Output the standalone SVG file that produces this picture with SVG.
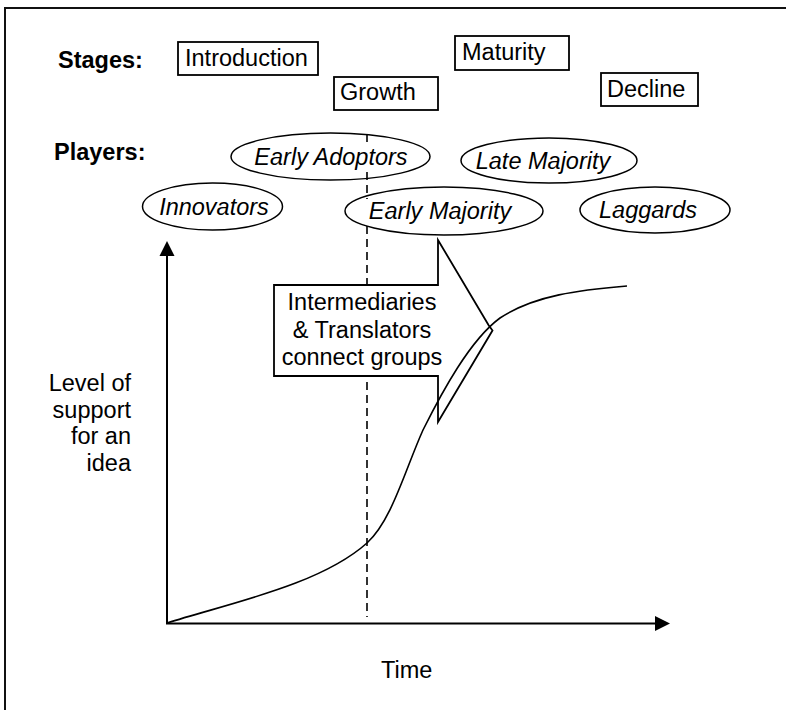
<svg xmlns="http://www.w3.org/2000/svg" width="786" height="710" viewBox="0 0 786 710">
<style>
text{font-family:"Liberation Sans",Arial,sans-serif;font-size:23.5px;fill:#000}
.b{font-weight:bold}
.i{font-style:italic}
.m{text-anchor:middle}
.e{text-anchor:end}
.box{fill:#fff;stroke:#000;stroke-width:1.8}
.ell{fill:none;stroke:#000;stroke-width:1.5}
.ln{fill:none;stroke:#000;stroke-width:1.6}
.dash{stroke:#000;stroke-width:1.6;stroke-dasharray:8,5}
</style>
<defs>
<marker id="ah" markerWidth="16" markerHeight="16" refX="0" refY="0" viewBox="0 -8 16 16" markerUnits="userSpaceOnUse" orient="auto">
<path d="M0,-7.5 L15,0 L0,7.5 Z" fill="#000"/>
</marker>
</defs>
<rect x="5" y="8" width="790" height="710" fill="#fff" stroke="#111" stroke-width="2"/>
<text class="b" x="58" y="68">Stages:</text>
<text class="b" x="54" y="160">Players:</text>
<g id="introduction"><rect class="box" x="178" y="42" width="140" height="33"/><text x="185" y="66">Introduction</text></g>
<g id="growth"><rect class="box" x="334" y="77" width="104" height="33"/><text x="340" y="100">Growth</text></g>
<g id="maturity"><rect class="box" x="455" y="36" width="114" height="34"/><text x="462" y="60">Maturity</text></g>
<g id="decline"><rect class="box" x="601" y="73" width="97" height="33"/><text x="607" y="97">Decline</text></g>
<g id="connectors">
<line class="dash" x1="367" y1="134" x2="367" y2="142"/>
<line class="dash" x1="367" y1="172" x2="367" y2="199"/>
<line class="dash" x1="367" y1="226" x2="367" y2="617"/>
<line x1="167" y1="624" x2="167" y2="256" stroke="#000" stroke-width="2" marker-end="url(#ah)"/>
<line x1="166" y1="623.5" x2="655" y2="623.5" stroke="#000" stroke-width="2.2" marker-end="url(#ah)"/>
</g>
<g id="early-adoptors"><ellipse class="ell" cx="330.5" cy="156.5" rx="99.5" ry="23.5"/><text class="i m" x="331" y="164.5">Early Adoptors</text></g>
<g id="late-majority"><ellipse class="ell" cx="549" cy="160.5" rx="88" ry="22.5"/><text class="i m" x="543" y="168.5">Late Majority</text></g>
<g id="innovators"><ellipse class="ell" cx="212.5" cy="206.5" rx="70" ry="23.5"/><text class="i m" x="214" y="214.5">Innovators</text></g>
<g id="early-majority"><ellipse class="ell" cx="444" cy="211" rx="99" ry="24"/><text class="i m" x="440" y="219">Early Majority</text></g>
<g id="laggards"><ellipse class="ell" cx="655" cy="210" rx="75" ry="23"/><text class="i m" x="648" y="218">Laggards</text></g>
<g id="callout">
<path class="box" stroke-width="1.6" d="M274,285 L438,285 L438,240 L488.5,325 L492.5,330.5 L438,422 L438,376 L274,376 Z"/>
<text class="m" x="362" y="310">Intermediaries</text>
<text class="m" x="362" y="338">&amp; Translators</text>
<text class="m" x="362" y="365">connect groups</text>
</g>
<g id="curve">
<path class="ln" d="M167,623 C230,603 320,585 367,543 C392,520 405,470 423,430 C442,392 470,340 500,318 C535,295 580,290 627,286"/>
</g>
<g id="axis-labels">
<text class="e" x="131" y="391">Level of</text>
<text class="e" x="131" y="418">support</text>
<text class="e" x="131" y="444">for an</text>
<text class="e" x="131" y="471">idea</text>
<text x="381" y="678">Time</text>
</g>
</svg>
